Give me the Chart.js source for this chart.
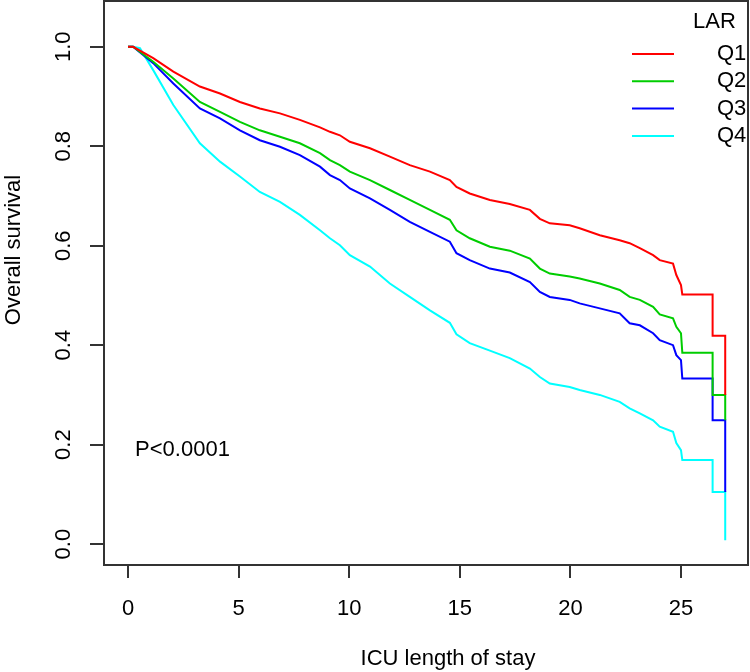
<!DOCTYPE html>
<html>
<head>
<meta charset="utf-8">
<title>ICU length of stay - overall survival by LAR</title>
<script src="https://cdn.jsdelivr.net/npm/chart.js@4.4.0/dist/chart.umd.min.js"></script>
<style>
  html, body { margin: 0; padding: 0; background: #fff; }
  #wrap { width: 750px; height: 672px; }
</style>
</head>
<body>
<div id="wrap"><canvas id="kmChart" width="750" height="672"></canvas></div>
<script>
// groups and colours
const groups = ['Q1', 'Q2', 'Q3', 'Q4'];
const groupColors = ['#ff0000', '#00cd00', '#0000ff', '#00ffff'];

// axis ticks
const xTicks = [0, 5, 10, 15, 20, 25];
const yTicks = [0, 0.2, 0.4, 0.6, 0.8, 1.0];

// time points (days)
const days = [0, 0.23, 1.14, 2.05, 3.25, 4.16, 5.06, 5.96, 6.87, 7.77, 8.68, 9.13, 9.58, 10.03, 10.94,
  11.84, 12.74, 13.65, 14.55, 14.85, 15.45, 16.36, 17.26, 18.17, 18.62, 19.07, 19.97, 20.42, 21.33,
  22.23, 22.68, 23.14, 23.74, 24.04, 24.64, 24.79, 25.0, 25.06, 26.43, 26.43, 27.0, 27.0];
const daysQ4 = [0, 0.23, 0.54, 1.14, 2.05, 3.25, 4.16, 5.06, 5.96, 6.87, 7.77, 8.68, 9.13, 9.58, 10.03,
  10.94, 11.84, 12.74, 13.65, 14.55, 14.85, 15.45, 16.36, 17.26, 18.17, 18.62, 19.07, 19.97, 20.42,
  21.33, 22.23, 22.68, 23.14, 23.74, 24.04, 24.64, 24.79, 25.0, 25.06, 26.43, 26.43, 27.0, 27.0];

// survival estimates
const survQ1 = [1, 1, 0.977, 0.950, 0.920, 0.906, 0.889, 0.876, 0.866, 0.853, 0.838, 0.829, 0.822, 0.809,
  0.796, 0.779, 0.762, 0.749, 0.732, 0.718, 0.705, 0.692, 0.684, 0.672, 0.654, 0.645, 0.641, 0.635,
  0.621, 0.611, 0.605, 0.595, 0.581, 0.571, 0.564, 0.541, 0.521, 0.502, 0.502, 0.419, 0.419, 0.300];
const survQ2 = [1, 1, 0.970, 0.936, 0.889, 0.869, 0.849, 0.832, 0.819, 0.806, 0.786, 0.772, 0.762, 0.749,
  0.732, 0.712, 0.692, 0.672, 0.652, 0.631, 0.615, 0.598, 0.590, 0.574, 0.554, 0.544, 0.538, 0.534,
  0.524, 0.511, 0.497, 0.491, 0.477, 0.462, 0.454, 0.437, 0.424, 0.385, 0.385, 0.300, 0.300, 0.249];
const survQ3 = [1, 1, 0.967, 0.926, 0.876, 0.856, 0.832, 0.812, 0.799, 0.782, 0.759, 0.742, 0.732, 0.715,
  0.695, 0.672, 0.648, 0.628, 0.608, 0.585, 0.571, 0.554, 0.546, 0.527, 0.507, 0.497, 0.491, 0.484,
  0.474, 0.464, 0.444, 0.440, 0.424, 0.410, 0.400, 0.380, 0.370, 0.333, 0.333, 0.249, 0.249, 0.105];
const survQ4 = [1, 1, 0.997, 0.953, 0.883, 0.806, 0.769, 0.739, 0.708, 0.688, 0.662, 0.631, 0.615, 0.601,
  0.581, 0.558, 0.524, 0.497, 0.470, 0.445, 0.422, 0.404, 0.389, 0.374, 0.353, 0.336, 0.323, 0.316,
  0.310, 0.300, 0.286, 0.273, 0.263, 0.249, 0.236, 0.226, 0.203, 0.189, 0.169, 0.169, 0.105, 0.105, 0.008];

const pLabel = 'P<0.0001';
const pPos = [0.32, 0.19];
const xTitle = 'ICU length of stay';
const yTitle = 'Overall survival';

const FONT = '"Liberation Sans", Arial, Helvetica, sans-serif';
Chart.defaults.font.family = FONT;
Chart.defaults.color = '#000';

function toPoints(t, s) {
    return t.map((v, i) => ({ x: v, y: s[i] }));
}

const seriesTimes = [days, days, days, daysQ4];
const seriesSurv = [survQ1, survQ2, survQ3, survQ4];

// Box, axis titles, p-value and legend drawn on top
const overlayPlugin = {
    id: 'overlay',
    afterDraw(chart) {
        const { ctx, chartArea: a, scales } = chart;
        ctx.save();
        ctx.strokeStyle = '#333';
        ctx.lineWidth = 2;
        ctx.strokeRect(a.left, a.top, a.right - a.left, a.bottom - a.top);

        ctx.fillStyle = '#000';
        ctx.font = '22px ' + FONT;
        ctx.textBaseline = 'middle';

        // axis titles (R places them slightly off the plot centre)
        ctx.textAlign = 'center';
        ctx.fillText(xTitle, (a.left + a.right) / 2 + 22, 659);
        ctx.save();
        ctx.translate(14, 250);
        ctx.rotate(-Math.PI / 2);
        ctx.fillText(yTitle, 0, 0);
        ctx.restore();

        ctx.textAlign = 'left';
        ctx.fillText(pLabel, scales.x.getPixelForValue(pPos[0]), scales.y.getPixelForValue(pPos[1]));

        // legend
        ctx.fillText('LAR', a.right - 55, a.top + 21);
        groups.forEach((g, i) => {
            const y = a.top + 53 + i * 27.3;
            ctx.strokeStyle = groupColors[i];
            ctx.lineWidth = 2;
            ctx.beginPath();
            ctx.moveTo(a.right - 116, y);
            ctx.lineTo(a.right - 74, y);
            ctx.stroke();
            ctx.fillText(g, a.right - 31, y);
        });
        ctx.restore();
    }
};

const ctx = document.getElementById('kmChart').getContext('2d');
const kmChart = new Chart(ctx, {
    type: 'line',
    data: {
        datasets: groups.map((g, i) => ({
            label: g,
            data: toPoints(seriesTimes[i], seriesSurv[i]),
            borderColor: groupColors[i],
            borderWidth: 2,
            pointRadius: 0,
            fill: false,
            tension: 0
        }))
    },
    options: {
        responsive: false,
        animation: false,
        devicePixelRatio: 1,
        layout: { padding: { top: 1, right: 2, left: 0, bottom: 0 } },
        plugins: {
            legend: { display: false },
            tooltip: { enabled: false }
        },
        scales: {
            x: {
                type: 'linear',
                min: -1.085,
                max: 28.03,
                afterBuildTicks: (s) => { s.ticks = xTicks.map(v => ({ value: v })); },
                afterFit: (s) => { s.height = 107; s.paddingLeft = 0; s.paddingRight = 0; },
                ticks: {
                    font: { size: 22 },
                    color: '#000',
                    padding: 18,
                    maxRotation: 0,
                    callback: (v) => String(v)
                },
                grid: { drawOnChartArea: false, drawTicks: true, tickLength: 13, color: '#333', lineWidth: 2 },
                border: { display: false }
            },
            y: {
                type: 'linear',
                min: -0.042,
                max: 1.092,
                afterBuildTicks: (s) => { s.ticks = yTicks.map(v => ({ value: v })); },
                afterFit: (s) => { s.width = 104; s.paddingTop = 0; s.paddingBottom = 0; },
                ticks: {
                    font: { size: 22 },
                    color: '#000',
                    padding: 11,
                    minRotation: 90,
                    maxRotation: 90,
                    crossAlign: 'center',
                    callback: (v) => v.toFixed(1)
                },
                grid: { drawOnChartArea: false, drawTicks: true, tickLength: 14, color: '#333', lineWidth: 2 },
                border: { display: false }
            }
        }
    },
    plugins: [overlayPlugin]
});
</script>
</body>
</html>
